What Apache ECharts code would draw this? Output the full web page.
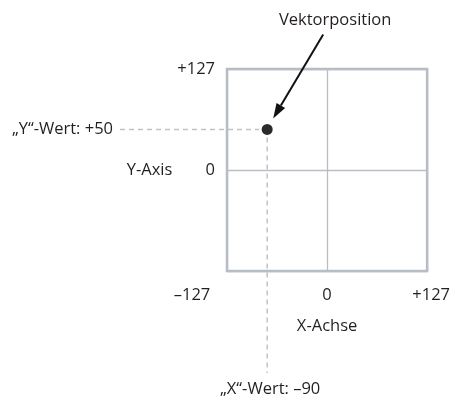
<!DOCTYPE html>
<html><head><meta charset="utf-8">
<script src="https://cdn.jsdelivr.net/npm/echarts@6/dist/echarts.min.js"></script>
<style>html,body{margin:0;padding:0;background:#fff}#c{width:453px;height:399px}</style>
</head><body><div id="c"></div>
<script>
// --- data ---
const axisMin = -127, axisMax = 127, axisStep = 127;
const xTickLabels = ['–127', '0', '+127'];
const yTickLabels = ['', '0', '+127'];
const xAxisName = 'X-Achse';
const yAxisName = 'Y-Axis';
const vectorPoint = [-76, 51];
const xValueLabel = '„X“-Wert: –90';
const yValueLabel = '„Y“-Wert: +50';
const pointerLabel = 'Vektorposition';

const FONT = '"Open Sans", sans-serif';
const FS = 16.5;
const TXT = '#231f20';
const chart = echarts.init(document.getElementById('c'), null, {renderer: 'canvas'});
function idx(v){ return Math.round((v - axisMin) / axisStep); }

chart.setOption({
  animation: false,
  grid: {left: 227, right: 25, top: 69, bottom: 128, show: true,
         borderColor: '#b5bbc3', borderWidth: 2.5, backgroundColor: 'transparent'},
  xAxis: {
    type: 'value', min: axisMin, max: axisMax, interval: axisStep,
    axisLine: {show: false}, axisTick: {show: false},
    splitLine: {show: true, lineStyle: {color: '#b9bec5', width: 1.3}},
    axisLabel: {margin: 16, fontFamily: FONT, fontSize: FS, color: TXT,
      formatter: v => { const i = idx(v); const t = xTickLabels[i];
        return i === 0 ? '{l|' + t + '}' : (i === 2 ? '{r|' + t + '}' : t); },
      rich: {l: {padding: [0, 70, 0, 0], fontFamily: FONT, fontSize: FS, color: TXT},
             r: {padding: [0, 0, 0, 8], fontFamily: FONT, fontSize: FS, color: TXT}}},
    name: xAxisName, nameLocation: 'middle', nameGap: 47,
    nameTextStyle: {fontFamily: FONT, fontSize: FS, color: TXT}
  },
  yAxis: {
    type: 'value', min: axisMin, max: axisMax, interval: axisStep,
    axisLine: {show: false}, axisTick: {show: false},
    splitLine: {show: true, lineStyle: {color: '#b9bec5', width: 1.3}},
    axisLabel: {margin: 12, fontFamily: FONT, fontSize: FS, color: TXT,
      formatter: v => yTickLabels[idx(v)]},
    name: yAxisName, nameLocation: 'middle', nameRotate: 0, nameGap: 52,
    nameTextStyle: {fontFamily: FONT, fontSize: FS, color: TXT, align: 'right'}
  },
  series: [{
    type: 'custom', clip: false, silent: true,
    data: [vectorPoint],
    renderItem: function (params, api) {
      const p = api.coord([api.value(0), api.value(1)]);
      const dash = {stroke: '#c2c2c2', lineWidth: 1.5, lineDash: [5, 4]};
      const tip = [p[0] + 6, p[1] - 11];
      const start = [p[0] + 56, p[1] - 95];
      const dx = start[0] - tip[0], dy = start[1] - tip[1];
      const len = Math.sqrt(dx*dx + dy*dy), ux = dx/len, uy = dy/len;
      const hl = 15, hw = 5;
      const base = [tip[0] + ux*hl, tip[1] + uy*hl];
      const font = FS + 'px ' + FONT;
      return {type: 'group', children: [
        {type: 'line', shape: {x1: 120, y1: p[1], x2: p[0] - 8, y2: p[1]}, style: dash},
        {type: 'line', shape: {x1: p[0], y1: p[1] + 8, x2: p[0], y2: 373}, style: dash},
        {type: 'circle', shape: {cx: p[0], cy: p[1], r: 5.5}, style: {fill: '#2b2b2b'}},
        {type: 'line', shape: {x1: start[0], y1: start[1], x2: base[0], y2: base[1]},
         style: {stroke: '#111', lineWidth: 2}},
        {type: 'polygon', shape: {points: [tip, [base[0] - uy*hw, base[1] + ux*hw], [base[0] + uy*hw, base[1] - ux*hw]]},
         style: {fill: '#111'}},
        {type: 'text', style: {text: yValueLabel, x: 113, y: p[1], align: 'right', verticalAlign: 'middle',
          font: font, fill: TXT}},
        {type: 'text', style: {text: xValueLabel, x: p[0] + 3, y: 389, align: 'center', verticalAlign: 'middle',
          font: font, fill: TXT}},
        {type: 'text', style: {text: pointerLabel, x: start[0] + 12, y: 20, align: 'center', verticalAlign: 'middle',
          font: font, fill: TXT}}
      ]};
    }
  }]
});
</script></body></html>
